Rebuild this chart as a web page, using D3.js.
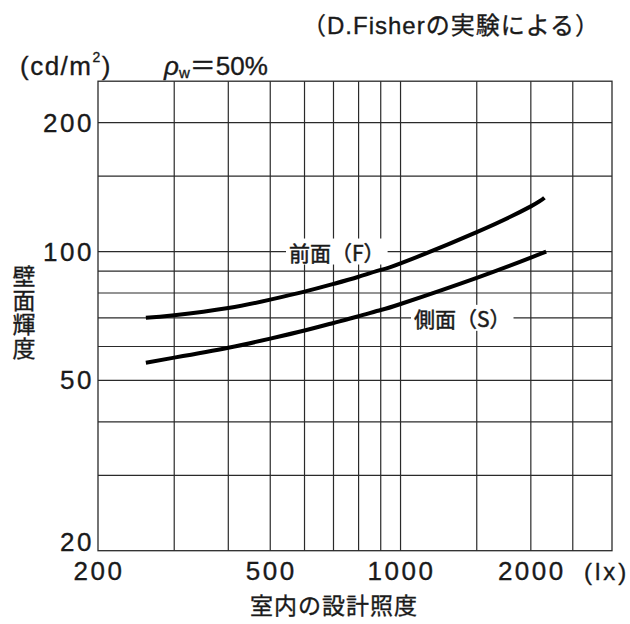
<!DOCTYPE html>
<html lang="ja">
<head>
    <meta charset="UTF-8">
    <title>壁面輝度と室内の設計照度</title>
    <script src="https://d3js.org/d3.v7.min.js"></script>
    <style>
        body { margin: 0; background: #fff; }
        text {
            font-family: "Liberation Sans", "Noto Sans CJK JP", sans-serif;
            fill: #1a1a1a;
            stroke: #1a1a1a;
            stroke-width: 0.35px;
        }
    </style>
</head>
<body>
<div id="chart"></div>
<script>
const width = 630;
const height = 624;

// axis values
const xTicks = [200, 500, 1000, 2000];
const yTicks = [20, 50, 100, 200];
const xGrid = [300, 400, 500, 600, 700, 800, 900, 1000, 1500, 2000, 2500];
const yGrid = [30, 40, 50, 60, 70, 80, 90, 100, 150, 200];

// 前面 (F)
const frontLux = [258, 300, 400, 500, 600, 700, 800, 900, 1000, 1500, 2000, 2150];
const frontLum = [70, 71, 73.8, 77.2, 80.6, 84, 87.3, 90.6, 93.8, 111, 127.5, 133.5];
// 側面 (S)
const sideLux = [258, 300, 400, 500, 600, 700, 800, 900, 1000, 1500, 2000, 2170];
const sideLum = [55, 56.5, 59.6, 62.6, 65.4, 68.1, 70.6, 73, 75.4, 86.8, 96.8, 100];

const x = d3.scaleLog().domain([200, 3080]).range([98, 612]);
const y = d3.scaleLog().domain([20, 250]).range([550.7, 81.2]);

const svg = d3.select("#chart")
    .append("svg")
    .attr("width", width)
    .attr("height", height);

// grid
svg.append("g")
    .selectAll("line")
    .data(xGrid)
    .join("line")
    .attr("x1", d => x(d)).attr("x2", d => x(d))
    .attr("y1", y.range()[1]).attr("y2", y.range()[0])
    .attr("stroke", "#2a2a2a")
    .attr("stroke-width", 1.2);

svg.append("g")
    .selectAll("line")
    .data(yGrid)
    .join("line")
    .attr("x1", x.range()[0]).attr("x2", x.range()[1])
    .attr("y1", d => y(d)).attr("y2", d => y(d))
    .attr("stroke", "#2a2a2a")
    .attr("stroke-width", 1.2);

// frame
svg.append("rect")
    .attr("x", x.range()[0])
    .attr("y", y.range()[1])
    .attr("width", x.range()[1] - x.range()[0])
    .attr("height", y.range()[0] - y.range()[1])
    .attr("fill", "none")
    .attr("stroke", "#2a2a2a")
    .attr("stroke-width", 1.3);

// curve labels with white background (they break the grid lines)
function label(txt, lx, ly) {
    const g = svg.append("g");
    const t = g.append("text")
        .attr("x", lx)
        .attr("y", ly)
        .attr("dominant-baseline", "central")
        .style("font-size", "21px")
        .style("font-family", "'Noto Sans CJK JP', sans-serif")
        .style("stroke-width", "0.5px")
        .text(txt);
    const b = t.node().getBBox();
    g.insert("rect", "text")
        .attr("x", b.x - 3)
        .attr("y", b.y + 2)
        .attr("width", b.width + 6)
        .attr("height", b.height - 4)
        .attr("fill", "#fff");
}
label("前面（F）", 289, y(100));
label("側面（S）", 414, y(70));

// curves
const line = d3.line()
    .x(d => x(d[0]))
    .y(d => y(d[1]))
    .curve(d3.curveNatural);

svg.append("path")
    .datum(d3.zip(frontLux, frontLum))
    .attr("d", line)
    .attr("fill", "none")
    .attr("stroke", "#000")
    .attr("stroke-width", 4);

svg.append("path")
    .datum(d3.zip(sideLux, sideLum))
    .attr("d", line)
    .attr("fill", "none")
    .attr("stroke", "#000")
    .attr("stroke-width", 4);

// tick labels
svg.append("g")
    .selectAll("text")
    .data(yTicks)
    .join("text")
    .attr("x", 94)
    .attr("y", d => d === 20 ? y(d) - 9 : y(d))
    .attr("text-anchor", "end")
    .attr("dominant-baseline", "central")
    .style("font-size", "26px")
    .style("letter-spacing", "2.5px")
    .text(d => d);

svg.append("g")
    .selectAll("text")
    .data(xTicks)
    .join("text")
    .attr("x", d => x(d) + 1)
    .attr("y", 571)
    .attr("text-anchor", "middle")
    .attr("dominant-baseline", "central")
    .style("font-size", "26px")
    .style("letter-spacing", "2.5px")
    .text(d => d);

svg.append("text")
    .attr("x", 584)
    .attr("y", 571)
    .attr("dominant-baseline", "central")
    .style("font-size", "24px")
    .style("letter-spacing", "3px")
    .text("(lx)");

// axis titles
svg.append("text")
    .attr("x", 334)
    .attr("y", 606)
    .attr("text-anchor", "middle")
    .attr("dominant-baseline", "central")
    .style("font-size", "23px")
    .style("letter-spacing", "1px")
    .text("室内の設計照度");

svg.append("g")
    .selectAll("text")
    .data(["壁", "面", "輝", "度"])
    .join("text")
    .attr("x", 24)
    .attr("y", (d, i) => 277 + i * 24)
    .attr("text-anchor", "middle")
    .attr("dominant-baseline", "central")
    .style("font-size", "23px")
    .text(d => d);

// unit and notes
const unit = svg.append("text")
    .attr("x", 20)
    .attr("y", 66)
    .attr("dominant-baseline", "central")
    .style("font-size", "26px")
    .style("letter-spacing", "1.5px");
unit.append("tspan").text("(cd/m");
unit.append("tspan").attr("dy", -9).style("font-size", "14px").text("2");
unit.append("tspan").attr("dy", 9).text(")");

const rho = svg.append("text")
    .attr("x", 164)
    .attr("y", 66)
    .attr("dominant-baseline", "central")
    .style("font-size", "26px");
rho.append("tspan").style("font-style", "italic").text("ρ");
rho.append("tspan").attr("dy", 6).style("font-size", "15px").text("w");
rho.append("tspan").attr("dy", -6).text("＝50%");

svg.append("text")
    .attr("x", 600)
    .attr("y", 25)
    .attr("text-anchor", "end")
    .attr("dominant-baseline", "central")
    .style("font-size", "24px")
    .style("letter-spacing", "1px")
    .text("（D.Fisherの実験による）");
</script>
</body>
</html>
